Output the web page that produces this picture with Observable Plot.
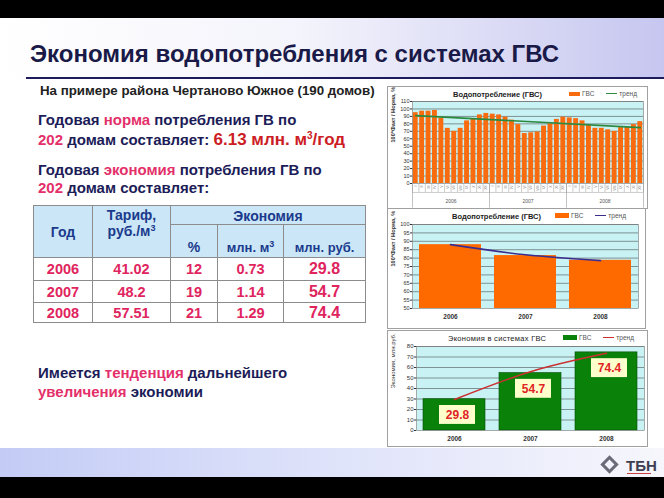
<!DOCTYPE html>
<html><head><meta charset="utf-8">
<script src="https://cdn.jsdelivr.net/npm/d3@7"></script>
<script src="https://cdn.jsdelivr.net/npm/@observablehq/plot@0.6"></script>
<style>
body{margin:0;background:#fff;}
#slide{position:relative;width:664px;height:498px;overflow:hidden;background:#fff;font-family:"Liberation Sans",Arial,sans-serif;}
.abs{position:absolute;}
.navy{color:#1c1c58;}
.pink{color:#e4306a;}
.txt{font-weight:bold;font-size:15px;white-space:nowrap;line-height:1;}
.box{position:absolute;background:#fff;border:1px solid #a0a0a0;box-sizing:border-box;}
.ctitle{position:absolute;font-size:7.5px;font-weight:bold;color:#222;white-space:nowrap;}
.leg{position:absolute;font-size:6.5px;color:#555;white-space:nowrap;display:flex;align-items:center;}
.sw{display:inline-block;width:11px;height:4px;margin-right:2px;}
.ln{display:inline-block;width:11px;height:1.5px;margin:0 2px 0 12px;}
.sup{font-size:9px;position:relative;top:-5px;line-height:0;}
table{border-collapse:collapse;table-layout:fixed;}
td{border:1px solid #8c8c8c;text-align:center;font-weight:bold;padding:0;white-space:nowrap;}
.hd{background:#cae6f7;color:#1b3a8c;font-size:14px;}
.dt{color:#e0245e;font-size:14.5px;}
</style></head><body>
<div id="slide">
  <div class="abs" style="left:0;top:0;width:664px;height:18px;background:#000"></div>
  <div class="abs" style="left:0;top:18px;width:664px;height:60px;background:linear-gradient(90deg,#ffffff 0%,#f4f4fc 45%,#c6c6f0 100%)"></div>
  <div class="abs" style="left:30px;top:40px;font-size:24px;font-weight:bold;color:#1a1a48;white-space:nowrap">Экономия водопотребления с системах ГВС</div>
  <div class="abs" style="left:26px;top:77px;width:638px;height:2px;background:#1c1c5c"></div>
  <div class="abs" style="left:40px;top:83px;font-size:13.3px;font-weight:bold;color:#222;white-space:nowrap">На примере района Чертаново Южное (190 домов)</div>

  <div class="abs txt navy" style="left:38px;top:112px">Годовая <span class="pink">норма</span> потребления ГВ по</div>
  <div class="abs txt navy" style="left:38px;top:131px"><span class="pink">202</span> домам составляет: <span style="color:#cc1c24;font-size:17px">6.13 млн. м<span class="sup" style="font-size:10px;top:-6px">3</span>/год</span></div>
  <div class="abs txt navy" style="left:38px;top:162px">Годовая <span class="pink">экономия</span> потребления ГВ по</div>
  <div class="abs txt navy" style="left:38px;top:180px"><span class="pink">202</span> домам составляет:</div>

  <div class="abs" id="tbl" style="left:33px;top:205px"></div>

  <div class="abs txt navy" style="left:38px;top:365px">Имеется <span class="pink">тенденция</span> дальнейшего</div>
  <div class="abs txt navy" style="left:38px;top:384px"><span class="pink">увеличения</span> экономии</div>

  <div class="box" style="left:387px;top:86px;width:261px;height:123px"></div>
  <div class="ctitle" style="left:453px;top:90px">Водопотребление (ГВС)</div>
  <div class="leg" style="left:569px;top:90px"><span class="sw" style="background:#f96b0f"></span>ГВС<span class="ln" style="background:#2a8a40"></span>тренд</div>
  <div class="abs" id="c1" style="left:387px;top:97px"></div>

  <div class="box" style="left:387px;top:208px;width:259px;height:121px"></div>
  <div class="ctitle" style="left:452px;top:212px">Водопотребление (ГВС)</div>
  <div class="leg" style="left:555px;top:212px"><span class="sw" style="background:#ff6a00;width:14px;height:5px"></span>ГВС<span class="ln" style="background:#3b2e8e"></span>тренд</div>
  <div class="abs" id="c2" style="left:387px;top:220px"></div>

  <div class="box" style="left:387px;top:330px;width:261px;height:117px"></div>
  <div class="ctitle" style="left:448px;top:334px;font-weight:normal;letter-spacing:0.3px">Экономия в системах ГВС</div>
  <div class="leg" style="left:563px;top:334px"><span class="sw" style="background:#0a820a;width:14px;height:5px"></span>ГВС<span class="ln" style="background:#cc3030"></span>тренд</div>
  <div class="abs" id="c3" style="left:387px;top:342px"></div>

  <div class="abs" style="left:0;top:448px;width:664px;height:29px;background:linear-gradient(90deg,#c4ccf6 0%,#dfe3fa 50%,#f6f6fc 100%)"></div>
  <div class="abs" style="left:603px;top:458px;width:13px;height:13px;border:3px solid #6a6a78;transform:rotate(45deg);box-sizing:border-box"></div>
  <div class="abs" style="left:626px;top:457px;font-size:15px;font-weight:bold;color:#3e3e52">ТБН</div>
  <div class="abs" style="left:627px;top:473px;width:24px;height:1px;background:#c84040"></div>
  <div class="abs" style="left:0;top:477px;width:664px;height:21px;background:#000"></div>
</div>
<script>
// ---------- data ----------
const years = ["2006", "2007", "2008"];
const monthLabels = ["I","II","III","IV","V","VI","VII","VIII","IX","X","XI","XII"];
const monthly2006 = [95, 97, 97, 98, 88, 74, 70, 74, 84, 86, 92, 94];
const monthly2007 = [93, 92, 89, 85, 79, 67, 68, 69, 77, 80, 86, 89];
const monthly2008 = [88, 87, 84, 78, 74, 74, 72, 70, 75, 75, 79, 83];
const monthlyTrendEnds = [91, 75];           // trend at first and last month
const annualPct = [88, 81.5, 78.7];          // 100*Факт/Норма, %
const annualTrend = [88, 82, 78.5];
const savingsRub = [29.8, 54.7, 74.4];       // млн. руб.
const savingsTrend = [29.5, 56, 73.5];
const tariff = ["41.02", "48.2", "57.51"];
const savingPct = ["12", "19", "21"];
const savingVol = ["0.73", "1.14", "1.29"];
const savingRubLabel = ["29.8", "54.7", "74.4"];

// ---------- table ----------
{
  const colW = [59, 78, 47, 66, 82];
  let h = `<table style="width:${d3.sum(colW)}px"><colgroup>${colW.map(w=>`<col style="width:${w}px">`).join("")}</colgroup>`;
  h += `<tr style="height:19px"><td class="hd" rowspan="2" style="vertical-align:middle">Год</td>
        <td class="hd" rowspan="2" style="vertical-align:top;line-height:16px;padding-top:1px">Тариф,<br>руб./м<span class="sup">3</span></td>
        <td class="hd" colspan="3" style="padding-top:2px">Экономия</td></tr>`;
  h += `<tr style="height:33px"><td class="hd" style="vertical-align:bottom;padding-bottom:2px">%</td>
        <td class="hd" style="vertical-align:bottom;padding-bottom:2px;font-size:13px">млн. м<span class="sup">3</span></td>
        <td class="hd" style="vertical-align:bottom;padding-bottom:2px;font-size:13px">млн. руб.</td></tr>`;
  const rh = [23, 22, 20];
  years.forEach((y, k) => {
    h += `<tr style="height:${rh[k]}px"><td class="dt">${y}</td><td class="dt">${tariff[k]}</td><td class="dt">${savingPct[k]}</td><td class="dt">${savingVol[k]}</td><td class="dt" style="font-size:16px">${savingRubLabel[k]}</td></tr>`;
  });
  h += `</table>`;
  document.getElementById("tbl").innerHTML = h;
}

const font = "Liberation Sans, Arial, sans-serif";
const baseStyle = {fontFamily: font, background: "transparent", overflow: "visible", color: "#333"};
const cyan = "#c8f2f4";

// ---------- chart 1: monthly ----------
{
  const all = [...monthly2006, ...monthly2007, ...monthly2008];
  const monthly = all.map((v, i) => ({i: i + 1, v, m: monthLabels[i % 12]}));
  const trend = [{i: 1, v: monthlyTrendEnds[0]}, {i: all.length, v: monthlyTrendEnds[1]}];
  const yTicks = d3.range(0, 111, 10);
  const monthEdges = d3.range(0, all.length + 1).map(k => k + 0.5);
  const yearEdges = d3.range(0, years.length + 1).map(k => k * 12 + 0.5);
  const yearMid = years.map((y, k) => ({x: k * 12 + 6.5, y}));
  const c1 = Plot.plot({
    width: 260, height: 111,
    marginLeft: 25, marginRight: 4, marginTop: 4, marginBottom: 25,
    style: {...baseStyle, fontSize: "5px"},
    x: {domain: [0.5, all.length + 0.5], axis: null},
    y: {domain: [0, 110], axis: null},
    marks: [
      Plot.frame({fill: cyan}),
      Plot.ruleY(yTicks.filter(t => t > 0), {stroke: "#333", strokeWidth: 0.5}),
      Plot.rectY(monthly, {x1: d => d.i - 0.38, x2: d => d.i + 0.38, y: "v", fill: "#f96b0f"}),
      Plot.line(trend, {x: "i", y: "v", stroke: "#2a8a40", strokeWidth: 1.6}),
      Plot.frame({stroke: "#777", strokeWidth: 0.6}),
      Plot.axisY({ticks: yTicks, tickSize: 2, tickPadding: 1, fontSize: 5.5, label: null}),
      Plot.ruleX(monthEdges, {x: d => d, y1: 0, y2: -12, stroke: "#999", strokeWidth: 0.5}),
      Plot.ruleX(yearEdges, {x: d => d, y1: 0, y2: -33, stroke: "#999", strokeWidth: 0.6}),
      Plot.ruleY([-12], {stroke: "#999", strokeWidth: 0.5}),
      Plot.text(monthly, {x: "i", y: 0, text: "m", rotate: -90, textAnchor: "end", dy: 2, fontSize: 3.5, fill: "#666"}),
      Plot.text(yearMid, {x: "x", y: 0, text: "y", dy: 18, fontSize: 5, fill: "#555"}),
      Plot.text(["100*Факт / Норма, %"], {y: () => 55, frameAnchor: "left", rotate: -90, dx: -19, fontSize: 5.6, fontWeight: "bold", fill: "#333"})
    ]
  });
  document.getElementById("c1").append(c1);
}

// ---------- chart 2: annual ----------
{
  const annual = years.map((y, k) => ({year: y, v: annualPct[k], t: annualTrend[k]}));
  const yTicks = d3.range(50, 101, 5);
  const c2 = Plot.plot({
    width: 258, height: 106,
    marginLeft: 25, marginRight: 7, marginTop: 4, marginBottom: 18,
    style: {...baseStyle, fontSize: "5px"},
    x: {type: "band", domain: years, paddingInner: 0.18, paddingOuter: 0.08, axis: null},
    y: {domain: [50, 100], axis: null},
    marks: [
      Plot.frame({fill: cyan}),
      Plot.ruleY(yTicks.filter(t => t > 50), {stroke: "#333", strokeWidth: 0.5}),
      Plot.barY(annual, {x: "year", y1: 50, y2: "v", fill: "#ff6a00"}),
      Plot.line(annual, {x: "year", y: "t", curve: "natural", stroke: "#3b2e8e", strokeWidth: 1.6}),
      Plot.frame({stroke: "#777", strokeWidth: 0.6}),
      Plot.axisY({ticks: yTicks, tickSize: 2, tickPadding: 1, fontSize: 5.5, label: null}),
      Plot.axisX({tickSize: 0, tickPadding: 6, fontSize: 6.5, fontWeight: "bold", label: null, fill: "#333"}),
      Plot.text(["100*Факт / Норма, %"], {y: () => 75, frameAnchor: "left", rotate: -90, dx: -19, fontSize: 5.6, fontWeight: "bold", fill: "#333"})
    ]
  });
  document.getElementById("c2").append(c2);
}

// ---------- chart 3: savings ----------
{
  const sav = years.map((y, k) => ({year: y, v: savingsRub[k], t: savingsTrend[k], label: savingRubLabel[k]}));
  const yTicks = d3.range(0, 81, 10);
  const c3 = Plot.plot({
    width: 260, height: 103,
    marginLeft: 29, marginRight: 3, marginTop: 4, marginBottom: 15,
    style: {...baseStyle, fontSize: "5px"},
    x: {type: "band", domain: years, paddingInner: 0.18, paddingOuter: 0.08, axis: null},
    y: {domain: [0, 80], axis: null},
    marks: [
      Plot.frame({fill: cyan}),
      Plot.ruleY(yTicks.filter(t => t > 0), {stroke: "#333", strokeWidth: 0.5}),
      Plot.barY(sav, {x: "year", y: "v", fill: "#0a820a", stroke: "#064a06", strokeWidth: 0.6}),
      Plot.barY(sav, {x: "year", y1: d => d.v - 24, y2: d => d.v - 6, insetLeft: 16, insetRight: 10, fill: "#ffffcc"}),
      Plot.text(sav, {x: "year", y: d => d.v - 15, text: "label", dx: 3, fontSize: 12, fontWeight: "bold", fill: "#e02424"}),
      Plot.line(sav, {x: "year", y: "t", curve: "natural", stroke: "#cc3030", strokeWidth: 1.5}),
      Plot.frame({stroke: "#777", strokeWidth: 0.6}),
      Plot.axisY({ticks: yTicks, tickSize: 2, tickPadding: 1, fontSize: 6, label: null}),
      Plot.axisX({tickSize: 0, tickPadding: 6, fontSize: 6.5, fontWeight: "bold", label: null, fill: "#333"}),
      Plot.text(["Экономия, млн.руб."], {y: () => 40, frameAnchor: "left", rotate: -90, dx: -23, fontSize: 6, fill: "#333"})
    ]
  });
  document.getElementById("c3").append(c3);
}
</script>
</body></html>
